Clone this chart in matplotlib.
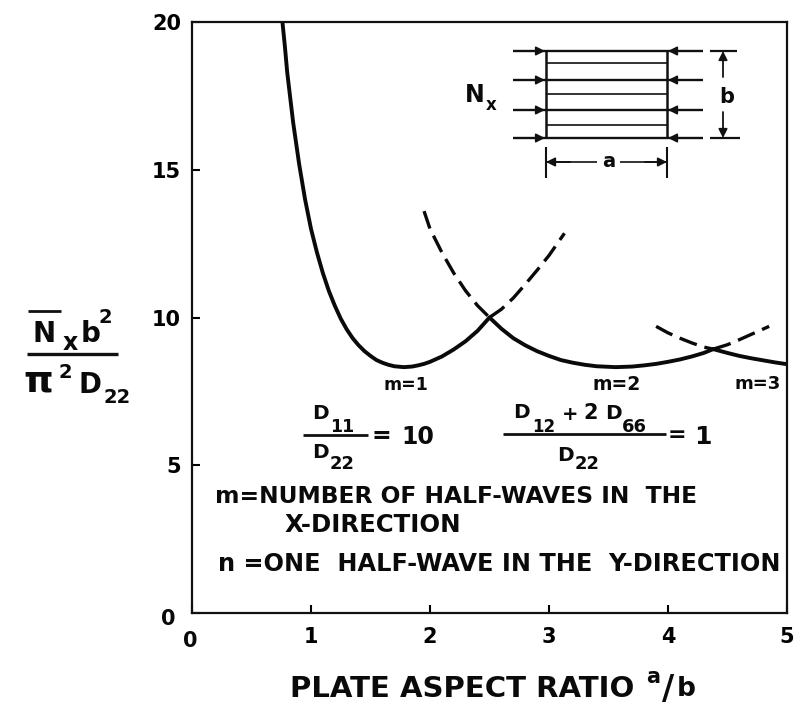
import matplotlib
matplotlib.use("Agg")
import matplotlib.pyplot as plt

W, H = 797, 706
plt.rcParams["font.family"] = ["DejaVu Sans"]
plt.rcParams["font.weight"] = "bold"

# Values
m1_solid_x = [0.76, 0.78, 0.80, 0.85, 0.90, 0.95, 1.00, 1.05, 1.10, 1.15, 1.20, 1.25, 1.30, 1.35, 1.40, 1.45,
              1.50, 1.55, 1.60, 1.65, 1.70, 1.78, 1.85, 1.90, 1.95, 2.00, 2.10, 2.20, 2.30, 2.40, 2.50]
m1_solid_y = [20.0, 19.2, 18.3, 16.6, 15.2, 14.0, 13.0, 12.2, 11.5, 10.9, 10.4, 9.96, 9.6, 9.3, 9.06, 8.86,
              8.7, 8.56, 8.47, 8.4, 8.35, 8.32, 8.34, 8.38, 8.43, 8.5, 8.68, 8.92, 9.2, 9.55, 10.0]
m1_dash_x = [2.50, 2.60, 2.70, 2.80, 2.90, 3.00, 3.13]
m1_dash_y = [10.0, 10.28, 10.66, 11.12, 11.6, 12.1, 12.85]
m2_dash_x = [1.95, 2.00, 2.10, 2.20, 2.30, 2.40, 2.50]
m2_dash_y = [13.6, 13.0, 12.2, 11.5, 10.9, 10.4, 10.0]
m2_solid_x = [2.50, 2.60, 2.70, 2.80, 2.90, 3.00, 3.10, 3.20, 3.30, 3.40, 3.56, 3.70, 3.80, 3.90, 4.00, 4.10, 4.20, 4.30, 4.38]
m2_solid_y = [10.0, 9.62, 9.3, 9.06, 8.86, 8.7, 8.56, 8.47, 8.4, 8.35, 8.32, 8.34, 8.38, 8.43, 8.5, 8.58, 8.68, 8.8, 8.93]
m2_dash2_x = [4.38, 4.50, 4.60, 4.70, 4.85]
m2_dash2_y = [8.93, 9.08, 9.25, 9.43, 9.7]
m3_dash_x = [3.90, 4.00, 4.10, 4.20, 4.30, 4.38]
m3_dash_y = [9.7, 9.48, 9.3, 9.14, 9.0, 8.93]
m3_solid_x = [4.38, 4.50, 4.60, 4.70, 4.80, 4.90, 5.00]
m3_solid_y = [8.93, 8.8, 8.7, 8.62, 8.55, 8.48, 8.42]
x_ticks = [0, 1, 2, 3, 4, 5]
y_ticks = [0, 5, 10, 15, 20]

fig = plt.figure(figsize=(W / 100, H / 100), dpi=100)
L, R, T, B = 192, 787, 22, 613
ax = fig.add_axes([L / W, 1 - B / H, (R - L) / W, (B - T) / H])
ax.set_xlim(0, 5)
ax.set_ylim(0, 20)
ax.set_xticks(x_ticks)
ax.set_yticks(y_ticks)
ax.tick_params(direction="in", length=6, width=1.5, labelsize=15, pad=8)
ax.tick_params(axis="x", pad=10)
ax.set_xticklabels(["", "1", "2", "3", "4", "5"])
ax.set_yticklabels(["", "5", "10", "15", "20"])
for s in ax.spines.values():
    s.set_linewidth(1.6)
    s.set_color("#111111")

for x, y in [(m1_solid_x, m1_solid_y), (m2_solid_x, m2_solid_y), (m3_solid_x, m3_solid_y)]:
    ax.plot(x, y, lw=2.8, color="#0a0a0a", solid_capstyle="round", solid_joinstyle="round")
for x, y in [(m1_dash_x, m1_dash_y), (m2_dash_x, m2_dash_y), (m2_dash2_x, m2_dash2_y), (m3_dash_x, m3_dash_y)]:
    ax.plot(x, y, color="#0a0a0a", lw=2.4, dashes=(5.5, 2.4))

# Overlay in pixel coordinates for the annotations and the small diagram
ov = fig.add_axes([0, 0, 1, 1], facecolor="none")
ov.set_xlim(0, W)
ov.set_ylim(H, 0)
ov.axis("off")


def t(x, y, s, size=15, ha="left", **k):
    ov.text(x, y, s, fontsize=size, ha=ha, va="baseline", color="#0a0a0a", fontweight="bold", **k)


def seg(x0, y0, x1, y1, lw=1.4):
    ov.plot([x0, x1], [y0, y1], color="#111111", lw=lw, solid_capstyle="butt")


def arrow(x0, y0, x1, y1):
    ov.annotate("", xy=(x1, y1), xytext=(x0, y0),
                arrowprops=dict(arrowstyle="-|>", color="#111111", lw=1.3, mutation_scale=13, shrinkA=0, shrinkB=0))


t(168, 625, "0", 15, ha="center")
t(190, 647, "0", 15, ha="center")

# curve labels
t(406, 390, "m=1", 12.5, ha="center")
t(617, 390, "m=2", 13.5, ha="center")
t(758, 389, "m=3", 13, ha="center")

# y axis label
t(44, 342, "N", 20, ha="center")
seg(28, 311, 61, 311, 2.0)
t(70, 350, "x", 17, ha="center")
t(91, 342, "b", 20, ha="center")
t(105, 323, "2", 14, ha="center")
seg(27, 354, 118, 354, 2.4)
t(38, 392, "\u03c0", 27, ha="center")
t(65, 378, "2", 14, ha="center")
t(90, 393, "D", 20, ha="center")
t(117, 403, "22", 14, ha="center")

# D11/D22 = 10
t(320, 419, "D", 14.5, ha="center")
t(330, 432, "11", 12.5)
seg(303, 435, 368, 435, 2.0)
t(320, 458, "D", 14.5, ha="center")
t(330, 469, "22", 13)
t(372, 443, "=", 17)
t(401, 444, "10", 17)

# (D12+2D66)/D22 = 1
t(521, 418, "D", 14.5, ha="center")
t(532, 432, "12", 12)
t(562, 420, "+", 14)
t(583, 419, "2", 15)
t(613, 419, "D", 14.5, ha="center")
t(622, 432, "66", 13)
seg(503, 434, 666, 434, 2.0)
t(565, 461, "D", 14.5, ha="center")
t(575, 469, "22", 13)
t(668, 441, "=", 16)
t(694, 444, "1", 18)

# notes
t(215, 503, "m=NUMBER OF HALF-WAVES IN  THE", 16.8)
t(285, 532, "X-DIRECTION", 17.6)
t(218, 571, "n =ONE  HALF-WAVE IN THE  Y-DIRECTION", 17.3)

# x label
t(290, 697, "PLATE ASPECT RATIO", 21)
t(653, 683, "a", 15, ha="center")
t(668, 699, "/", 24, ha="center")
t(686, 696, "b", 19, ha="center")

# plate diagram
px0, px1 = 546, 667
rows = [51, 80, 110, 138]
thin = [63, 94, 125]
for y in rows:
    seg(513, y, 703, y, 1.7)
    arrow(522, y, 545, y)
    arrow(701, y, 668, y)
for y in thin:
    seg(px0, y, px1, y, 1.2)
seg(px0, 51, px0, 138, 1.8)
seg(px1, 51, px1, 138, 1.8)
seg(710, 51, 737, 51, 1.6)
seg(710, 138, 740, 138, 1.6)
arrow(723, 77, 723, 51)
arrow(723, 112, 723, 138)
t(727, 103, "b", 15, ha="center")
seg(px0, 147, px0, 178, 1.5)
seg(px1, 147, px1, 178, 1.5)
seg(px0, 162, 597, 162, 1.2)
seg(620, 162, px1, 162, 1.2)
arrow(570, 162, px0, 162)
arrow(645, 162, px1, 162)
t(609, 167, "a", 14, ha="center")
t(475, 102, "N", 17, ha="center")
t(491, 110, "x", 12, ha="center")

fig.savefig("out.png", dpi=100)
